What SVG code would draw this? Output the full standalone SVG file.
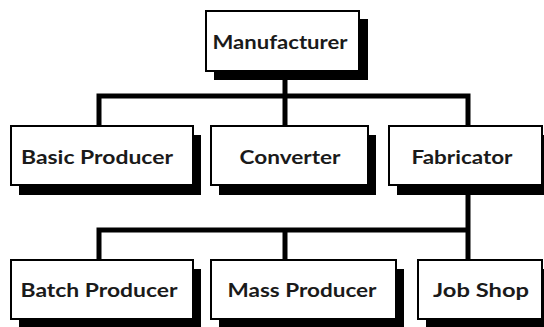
<svg xmlns="http://www.w3.org/2000/svg" width="544" height="327" viewBox="0 0 544 327">
  <style>
    .shadow { fill: #000; }
    .box { fill: #fff; stroke: #000; stroke-width: 2; }
    .label { font-family: "Lato", "DejaVu Sans", sans-serif; font-weight: 700; font-size: 18px; fill: #1a1a1a; text-anchor: middle; }
    .wire { fill: none; stroke: #000; stroke-width: 5; stroke-linecap: butt; stroke-linejoin: miter; }
  </style>
  <rect width="544" height="327" fill="#fff"/>

  <!-- connectors -->
  <g id="connectors">
    <path class="wire" d="M285,72 V126"/>
    <path class="wire" d="M99,126 V96 H468 V126"/>
    <path class="wire" d="M468,190 V260"/>
    <path class="wire" d="M99,260 V230 H468"/>
    <path class="wire" d="M285,230 V260"/>
  </g>

  <!-- top level -->
  <g id="manufacturer">
    <rect class="shadow" x="214" y="19" width="154" height="61"/>
    <rect class="box" x="206" y="11" width="153" height="60"/>
    <text class="label" x="280" y="49" textLength="135" lengthAdjust="spacingAndGlyphs">Manufacturer</text>
  </g>

  <!-- second level -->
  <g id="basic-producer">
    <rect class="shadow" x="19" y="135" width="182" height="60"/>
    <rect class="box" x="11" y="126" width="182" height="59"/>
    <text class="label" x="97" y="164" textLength="152" lengthAdjust="spacingAndGlyphs">Basic Producer</text>
  </g>
  <g id="converter">
    <rect class="shadow" x="219" y="135" width="157" height="60"/>
    <rect class="box" x="211" y="126" width="157" height="59"/>
    <text class="label" x="290" y="164" textLength="101" lengthAdjust="spacingAndGlyphs">Converter</text>
  </g>
  <g id="fabricator">
    <rect class="shadow" x="397" y="135" width="153" height="60"/>
    <rect class="box" x="389" y="126" width="153" height="59"/>
    <text class="label" x="462" y="164" textLength="101" lengthAdjust="spacingAndGlyphs">Fabricator</text>
  </g>

  <!-- third level -->
  <g id="batch-producer">
    <rect class="shadow" x="19" y="269" width="182" height="60"/>
    <rect class="box" x="11" y="260" width="182" height="59"/>
    <text class="label" x="99" y="297" textLength="157" lengthAdjust="spacingAndGlyphs">Batch Producer</text>
  </g>
  <g id="mass-producer">
    <rect class="shadow" x="219" y="269" width="185" height="60"/>
    <rect class="box" x="211" y="260" width="185" height="59"/>
    <text class="label" x="302" y="297" textLength="149" lengthAdjust="spacingAndGlyphs">Mass Producer</text>
  </g>
  <g id="job-shop">
    <rect class="shadow" x="426" y="269" width="124" height="60"/>
    <rect class="box" x="418" y="260" width="124" height="59"/>
    <text class="label" x="481" y="297" textLength="96" lengthAdjust="spacingAndGlyphs">Job Shop</text>
  </g>
</svg>
